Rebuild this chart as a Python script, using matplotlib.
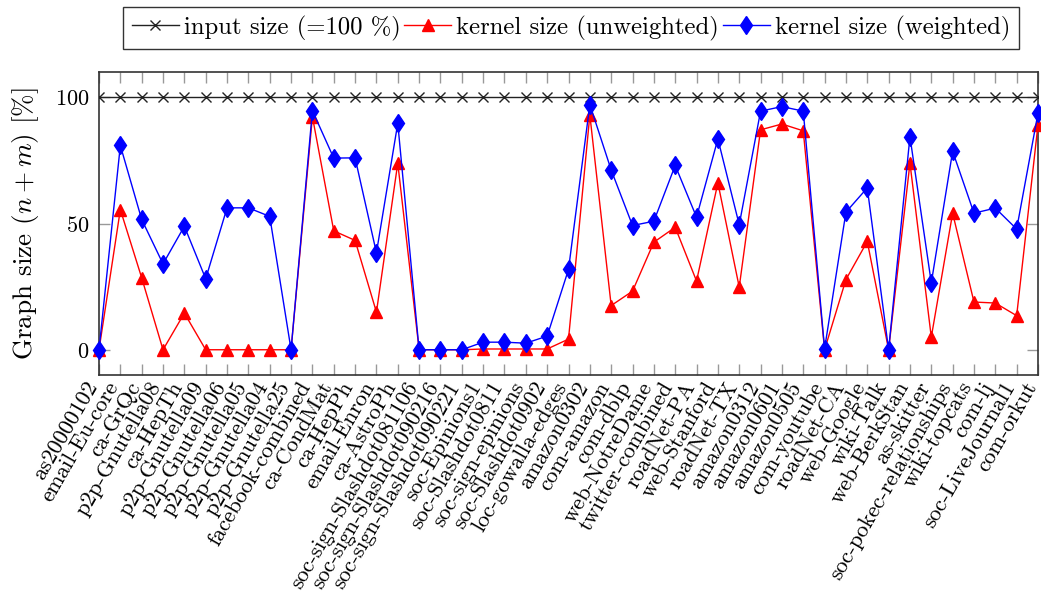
import matplotlib
matplotlib.use("Agg")
import matplotlib.pyplot as plt
import matplotlib.transforms as mtransforms
import numpy as np

plt.rcParams['font.family'] = 'serif'
plt.rcParams['font.serif'] = ['cmr10', 'DejaVu Serif']
plt.rcParams['mathtext.fontset'] = 'cm'
plt.rcParams['axes.unicode_minus'] = False
plt.rcParams['axes.formatter.use_mathtext'] = True

graphs = ["as20000102", "email-Eu-core", "ca-GrQc", "p2p-Gnutella08", "ca-HepTh",
          "p2p-Gnutella09", "p2p-Gnutella06", "p2p-Gnutella05", "p2p-Gnutella04",
          "p2p-Gnutella25", "facebook-combined", "ca-CondMat", "ca-HepPh", "email-Enron",
          "ca-AstroPh", "soc-sign-Slashdot081106", "soc-sign-Slashdot090216",
          "soc-sign-Slashdot090221", "soc-Epinions1", "soc-Slashdot0811", "soc-sign-epinions",
          "soc-Slashdot0902", "loc-gowalla-edges", "amazon0302", "com-amazon", "com-dblp",
          "web-NotreDame", "twitter-combined", "roadNet-PA", "web-Stanford", "roadNet-TX",
          "amazon0312", "amazon0601", "amazon0505", "com-youtube", "roadNet-CA", "web-Google",
          "wiki-Talk", "web-BerkStan", "as-skitter", "soc-pokec-relationships", "wiki-topcats",
          "com-lj", "soc-LiveJournal1", "com-orkut"]

input_size = [100] * len(graphs)

unweighted = [0, 55.5, 28.5, 0, 14.5, 0, 0, 0, 0, 0,
              92.3, 47.1, 43.3, 14.9, 73.9, 0, 0, 0, 0.3, 0.3,
              0.3, 0.3, 4.2, 93.0, 17.5, 23.2, 42.6, 48.5, 27.2, 66.1,
              24.8, 87.1, 89.4, 86.7, 0, 27.8, 42.9, 0, 73.9, 5.0,
              54.1, 18.9, 18.5, 13.5, 89.1]

weighted = [0, 80.9, 51.6, 34.0, 48.9, 28.1, 56.2, 56.2, 52.8, 0,
            94.7, 75.9, 76.0, 38.4, 89.7, 0, 0, 0, 3.0, 3.0,
            2.6, 5.4, 31.8, 97.1, 71.2, 49.2, 50.9, 73.0, 52.5, 83.5,
            49.5, 94.5, 96.3, 94.5, 0.4, 54.5, 64.1, 0, 84.4, 26.5,
            78.6, 54.1, 56.1, 47.8, 93.7]

x = np.arange(len(graphs))

fig = plt.figure(figsize=(10.41, 6.01), dpi=100)
ax = fig.add_axes([99/1041, 1 - 375/601, (1038-99)/1041, (375-72)/601])

l1, = ax.plot(x, input_size, color='#222222', lw=1.0, marker='x', ms=7, mew=1.0,
              label='input size (=100 %)', zorder=3)
l2, = ax.plot(x, unweighted, color='red', lw=1.0, marker='^', ms=8,
              label='kernel size (unweighted)', zorder=4, clip_on=False)
l3, = ax.plot(x, weighted, color='blue', lw=1.0, marker='d', ms=9.5,
              label='kernel size (weighted)', zorder=5, clip_on=False)

ax.set_xlim(0, len(graphs) - 1)
ax.set_ylim(-10, 110)
ax.set_yticks([0, 50, 100])
ax.set_xticks(x)
ax.set_xticklabels(graphs, rotation=60, ha='right', va='center',
                   rotation_mode='anchor', fontsize=16.2)
ax.tick_params(axis='x', direction='in', length=8, width=1, color='#999999',
               top=True, bottom=True, pad=6)
ax.tick_params(axis='y', direction='in', length=8, width=1, color='#999999',
               left=True, right=True, labelsize=16, pad=7)
shift = mtransforms.ScaledTranslation(-6/100, 0, fig.dpi_scale_trans)
for lab in ax.get_xticklabels():
    lab.set_transform(lab.get_transform() + shift)
for s in ax.spines.values():
    s.set_color('#333333')
    s.set_linewidth(1.2)

ax.set_ylabel('Graph size ($n + m$) [%]', fontsize=19.5, labelpad=10)

leg = fig.legend(handles=[l1, l2, l3], loc='center', ncol=3,
                 bbox_to_anchor=(571/1041, 1 - 28/601), fontsize=17.8,
                 frameon=True, fancybox=False, edgecolor='black',
                 handlelength=1.9, handletextpad=0.2, columnspacing=0.15,
                 borderpad=0.35, borderaxespad=0)
leg.get_frame().set_linewidth(1.0)

fig.savefig('out.png', dpi=100)
